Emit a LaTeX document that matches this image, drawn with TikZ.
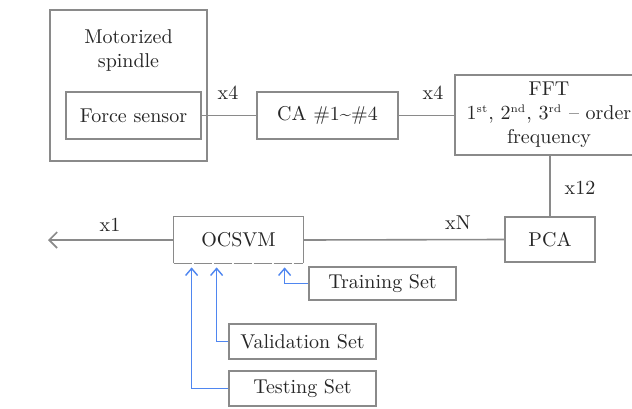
\documentclass[tikz,border=0pt]{standalone}
\usetikzlibrary{arrows.meta,calc}
\definecolor{linegray}{HTML}{8A8A8A}
\definecolor{txtgray}{HTML}{262626}
\definecolor{arrblue}{HTML}{4F86F0}
\newcommand\supx[1]{\textsuperscript{\fontsize{5.5}{6}\selectfont #1}}
\begin{document}
\begin{tikzpicture}[x=0.5pt,y=-0.5pt,
  font=\rmfamily\fontsize{10}{12}\selectfont, text=txtgray,
  box/.style={draw=linegray, line width=0.8pt, inner sep=0pt, align=center},
  conn/.style={draw=linegray, line width=0.8pt},
  blu/.style={draw=arrblue, line width=0.7pt, -{Straight Barb[length=3.5pt,width=6pt]}},
  lbl/.style={inner sep=0pt}]
\useasboundingbox[fill=white] (0,0) rectangle (632,408);
% boxes
\node[box, minimum width=78.5pt, minimum height=75.5pt] (spindle) at (128.5,85.5) {};
\node[lbl, align=center] (spindletxt) at (128.5,50) {Motorized\\spindle};
\node[box, minimum width=67.5pt, minimum height=23.5pt] (force) at (133.5,115.5) {Force sensor};
\node[box, minimum width=70.5pt, minimum height=23.5pt] (ca) at (327.5,115.5) {CA \#1\textasciitilde\#4};
\node[box, minimum width=94pt, minimum height=40pt] (fft) at (549,115) {FFT\\1\supx{st}, 2\supx{nd}, 3\supx{rd} -- order\\frequency};
\node[box, minimum width=45pt, minimum height=22.5pt] (pca) at (550,239.5) {PCA};
\node[inner sep=0pt, minimum width=64.5pt, minimum height=23pt] (ocsvm) at (238.5,240) {OCSVM};
\draw[conn] (ocsvm.south west) -- (ocsvm.north west) -- (ocsvm.north east) -- (ocsvm.south east);
\draw[conn, dash pattern=on 9pt off 1pt] (ocsvm.south west) -- (ocsvm.south east);
\node[box, minimum width=73.5pt, minimum height=16.5pt] (train) at (382.5,283.5) {Training Set};
\node[box, minimum width=73.5pt, minimum height=17.5pt] (valid) at (302.5,341.5) {Validation Set};
\node[box, minimum width=73.5pt, minimum height=17.5pt] (test) at (302.5,388.5) {Testing Set};
% connectors
\draw[conn] (force.east) -- (ca.west);
\draw[conn] (ca.east) -- (ca.east -| fft.west);
\draw[conn] (fft.south -| pca.north) -- (pca.north);
\draw[conn] (pca.west) -- (ocsvm.east);
\coordinate (out) at (48,240);
\draw[conn, -{Straight Barb[length=4pt,width=8pt]}] (ocsvm.west) -- (out);
% labels
\node[lbl] (l1) at (228,93) {x4};
\node[lbl] (l2) at (433,93) {x4};
\node[lbl] (l3) at (580,188) {x12};
\node[lbl] (l4) at (458,223) {xN};
\node[lbl] (l5) at (110,225) {x1};
% blue arrows
\draw[blu, shorten >=2pt] (train.west) -| ([xshift=55.5pt]ocsvm.south west);
\draw[blu, shorten >=2pt] (valid.west) -| ([xshift=21.5pt]ocsvm.south west);
\draw[blu, shorten >=2pt] (test.west) -| ([xshift=9pt]ocsvm.south west);
\end{tikzpicture}
\end{document}
